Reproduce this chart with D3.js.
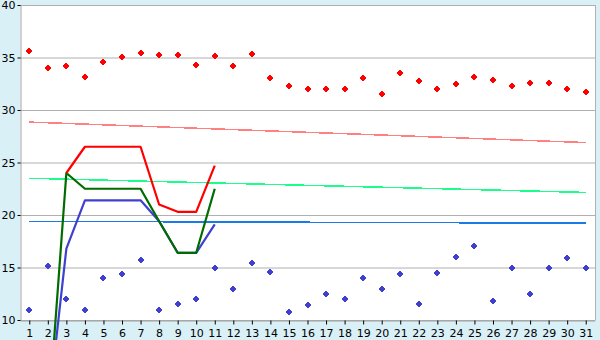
<!DOCTYPE html>
<html lang="en">
<head>
<meta charset="UTF-8">
<title>Daily temperatures</title>
<script src="https://d3js.org/d3.v7.min.js"></script>
<style>
    body { margin: 0; background: #d9f0f7; }
    svg { display: block; }
    text { font-family: "DejaVu Sans", Verdana, sans-serif; font-size: 11px; fill: #000; }
</style>
</head>
<body>
<script>
    // categories
    let days = ["1","2","3","4","5","6","7","8","9","10","11","12","13","14","15","16",
                "17","18","19","20","21","22","23","24","25","26","27","28","29","30","31"];
    let yTicks = [10, 15, 20, 25, 30, 35, 40];

    // scattered daily points
    let highs = [35.6, 34.0, 34.2, 33.1, 34.6, 35.0, 35.4, 35.2, 35.2, 34.3, 35.1, 34.2, 35.3, 33.0, 32.3, 32.0,
                 32.0, 32.0, 33.0, 31.5, 33.5, 32.8, 32.0, 32.5, 33.1, 32.9, 32.3, 32.6, 32.6, 32.0, 31.7];
    let lows = [11.0, 15.1, 12.0, 11.0, 14.0, 14.4, 15.7, 11.0, 11.5, 12.0, 15.0, 13.0, 15.4, 14.6, 10.8, 11.4,
                12.5, 12.0, 14.0, 13.0, 14.4, 11.5, 14.5, 16.0, 17.0, 11.8, 15.0, 12.5, 15.0, 15.9, 15.0];

    // thin trend lines (first day, last day)
    let trendDays = ["1", "31"];
    let pinkTrend = [28.85, 26.9];
    let greenTrend = [23.5, 22.15];
    let blueTrend = [19.4, 19.22];

    // thick lines
    let redDays = ["3","4","5","6","7","8","9","10","11"];
    let redLine = [24.0, 26.5, 26.5, 26.5, 26.5, 21.0, 20.3, 20.3, 24.7];
    let midDays = ["2","3","4","5","6","7","8","9","10","11"];
    let greenLine = [0, 24.0, 22.5, 22.5, 22.5, 22.5, 19.4, 16.4, 16.4, 22.5];
    let blueLine = [1, 16.8, 21.4, 21.4, 21.4, 21.4, 19.4, 16.4, 16.4, 19.1];

    let width = 600, height = 340;
    let plotL = 20, plotR = 595, plotT = 5, plotB = 320;

    let svg = d3.select("body").append("svg")
        .attr("width", width)
        .attr("height", height);

    let x = d3.scalePoint().domain(days).range([plotL, plotR]).padding(0.5);
    let y = d3.scaleLinear().domain([10, 40]).range([plotB, plotT]);

    // plot area
    svg.append("rect")
        .attr("x", plotL).attr("y", plotT)
        .attr("width", plotR - plotL).attr("height", plotB - plotT)
        .attr("fill", "#fff");

    // gridlines
    svg.append("g")
        .selectAll("line")
        .data(yTicks)
        .enter().append("line")
        .attr("x1", plotL).attr("x2", plotR)
        .attr("y1", d => y(d) + 0.5).attr("y2", d => y(d) + 0.5)
        .attr("stroke", "#b0b0b0");

    // border right
    svg.append("line")
        .attr("x1", plotR + 0.5).attr("x2", plotR + 0.5)
        .attr("y1", plotT).attr("y2", plotB)
        .attr("stroke", "#b0b0b0");

    // axes
    let yAxis = svg.append("g")
        .attr("transform", `translate(${plotL + 0.5},0)`)
        .call(d3.axisLeft(y).tickValues(yTicks).tickSize(3).tickPadding(2).tickSizeOuter(0));
    let xAxis = svg.append("g")
        .attr("transform", `translate(0,${plotB + 0.5})`)
        .call(d3.axisBottom(x).tickSize(4).tickPadding(5).tickSizeOuter(0));
    [yAxis, xAxis].forEach(a => {
        a.select(".domain").attr("stroke", "#a0a0a0");
        a.selectAll(".tick line").attr("stroke", "#000");
        a.selectAll("text").attr("font-size", 11).attr("font-family", "DejaVu Sans, Verdana, sans-serif");
    });

    // thin trend lines
    function thin(vals, color) {
        svg.append("path")
            .datum(vals)
            .attr("fill", "none")
            .attr("stroke", color)
            .attr("stroke-width", 1.5)
            .attr("shape-rendering", "crispEdges")
            .attr("d", d3.line().x((d, i) => x(trendDays[i])).y(d => y(d)));
    }
    thin(pinkTrend, "#ff8080");
    thin(greenTrend, "#1aff8c");
    thin(blueTrend, "#1a7ae6");

    // thick lines
    function thick(dayList, vals, color) {
        svg.append("path")
            .datum(vals)
            .attr("fill", "none")
            .attr("stroke", color)
            .attr("stroke-width", 2.2)
            .attr("stroke-linejoin", "round")
            .attr("d", d3.line().x((d, i) => x(dayList[i])).y(d => y(d)));
    }
    thick(midDays, blueLine, "#4040d0");
    thick(midDays, greenLine, "#006c00");
    thick(redDays, redLine, "#ff0000");

    // markers
    let marker = "M-1,-3h2v1h1v1h1v2h-1v1h-1v1h-2v-1h-1v-1h-1v-2h1v-1h1z";
    function points(vals, color) {
        svg.append("g")
            .selectAll("path")
            .data(vals)
            .enter().append("path")
            .attr("d", marker)
            .attr("transform", (d, i) => `translate(${Math.round(x(days[i]))},${Math.round(y(d))})`)
            .attr("fill", color)
            .attr("shape-rendering", "crispEdges");
    }
    points(highs, "#ff0000");
    points(lows, "#4040d0");
</script>
</body>
</html>
